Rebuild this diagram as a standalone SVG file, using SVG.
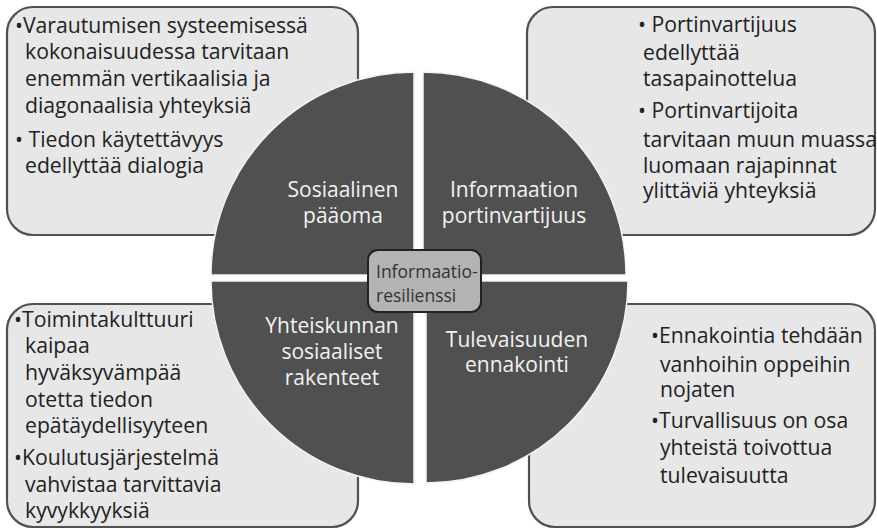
<svg xmlns="http://www.w3.org/2000/svg" width="877" height="529" viewBox="0 0 877 529">
<style>
.box{fill:#e7e7e7;stroke:#505050;stroke-width:2.2}
.quad{fill:#505050;stroke:#f4f4f4;stroke-width:1.5}
.bt{font-family:"Open Sans","Noto Sans",sans-serif;font-size:21.2px;fill:#222}
.ql{font-family:"Open Sans","Noto Sans",sans-serif;font-size:21px;fill:#f2f2f2;text-anchor:middle}
.ct{font-family:"Open Sans","Noto Sans",sans-serif;font-size:17.5px;fill:#333}
</style>
<rect width="877" height="529" fill="#ffffff"/>
<g id="box-top-left">
<rect class="box" x="7" y="7" width="351" height="228" rx="26"/>
<text class="bt"><tspan x="15" y="33">•Varautumisen systeemisessä</tspan><tspan x="25" y="59">kokonaisuudessa tarvitaan</tspan><tspan x="25" y="86">enemmän vertikaalisia ja</tspan><tspan x="25" y="113">diagonaalisia yhteyksiä</tspan><tspan x="15" y="147">• Tiedon käytettävyys</tspan><tspan x="25" y="173">edellyttää dialogia</tspan></text>
</g>
<g id="box-top-right">
<rect class="box" x="527" y="7" width="348" height="228" rx="26"/>
<text class="bt"><tspan x="638" y="32">• Portinvartijuus</tspan><tspan x="643" y="60">edellyttää</tspan><tspan x="643" y="86">tasapainottelua</tspan><tspan x="638" y="118">• Portinvartijoita</tspan><tspan x="643" y="147">tarvitaan muun muassa</tspan><tspan x="643" y="173">luomaan rajapinnat</tspan><tspan x="643" y="198">ylittäviä yhteyksiä</tspan></text>
</g>
<g id="box-bottom-left">
<rect class="box" x="7" y="304" width="351" height="223" rx="26"/>
<text class="bt"><tspan x="14" y="327">•Toimintakulttuuri</tspan><tspan x="25" y="353">kaipaa</tspan><tspan x="25" y="380">hyväksyvämpää</tspan><tspan x="25" y="407">otetta tiedon</tspan><tspan x="25" y="433">epätäydellisyyteen</tspan><tspan x="14" y="465">•Koulutusjärjestelmä</tspan><tspan x="25" y="492">vahvistaa tarvittavia</tspan><tspan x="25" y="518">kyvykkyyksiä</tspan></text>
</g>
<g id="box-bottom-right">
<rect class="box" x="529" y="304" width="346" height="223" rx="26"/>
<text class="bt"><tspan x="651" y="343">•Ennakointia tehdään</tspan><tspan x="660" y="372">vanhoihin oppeihin</tspan><tspan x="660" y="397">nojaten</tspan><tspan x="651" y="428">•Turvallisuus on osa</tspan><tspan x="660" y="455">yhteistä toivottua</tspan><tspan x="660" y="483">tulevaisuutta</tspan></text>
</g>
<g id="quad-sosiaalinen-paaoma">
<path class="quad" d="M414,275 L211,275 A203,203 0 0 1 414,72 Z"/>
<text class="ql"><tspan x="343" y="197">Sosiaalinen</tspan><tspan x="343" y="223">pääoma</tspan></text>
</g>
<g id="quad-informaation-portinvartijuus">
<path class="quad" d="M423,275 L423,72 A203,203 0 0 1 626,275 Z"/>
<text class="ql"><tspan x="514" y="197">Informaation</tspan><tspan x="514" y="223">portinvartijuus</tspan></text>
</g>
<g id="quad-yhteiskunnan-rakenteet">
<path class="quad" d="M414,281 L414,484 A203,203 0 0 1 211,281 Z"/>
<text class="ql"><tspan x="332" y="333">Yhteiskunnan</tspan><tspan x="332" y="359">sosiaaliset</tspan><tspan x="332" y="385">rakenteet</tspan></text>
</g>
<g id="quad-tulevaisuuden-ennakointi">
<path class="quad" d="M426,281 L628,281 A202,202 0 0 1 426,483 Z"/>
<text class="ql"><tspan x="517" y="347">Tulevaisuuden</tspan><tspan x="517" y="372">ennakointi</tspan></text>
</g>
<g id="center-informaatioresilienssi">
<rect x="368" y="250" width="113" height="62" rx="10" fill="#b3b3b3" stroke="#222" stroke-width="2"/>
<text class="ct"><tspan x="376" y="278">Informaatio-</tspan><tspan x="376" y="302">resilienssi</tspan></text>
</g>
<g id="connectors"/>
</svg>
